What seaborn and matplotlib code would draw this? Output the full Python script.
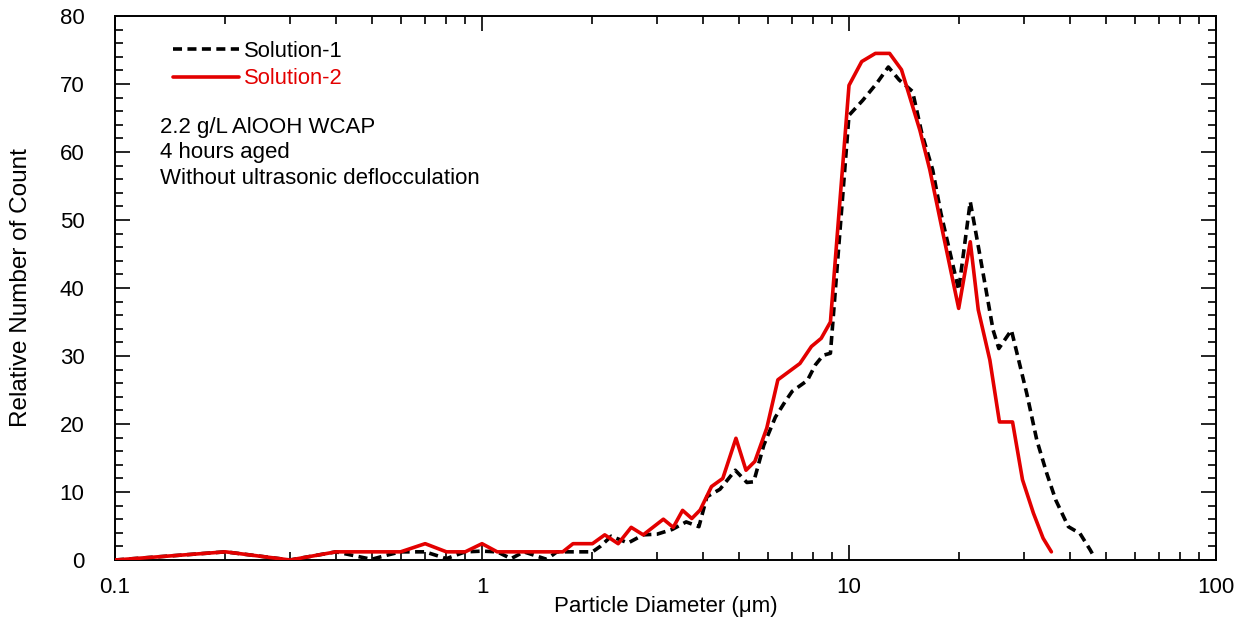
import numpy as np
import pandas as pd
import matplotlib
matplotlib.use("Agg")
import matplotlib.pyplot as plt
from matplotlib.ticker import LogLocator, MultipleLocator, FixedLocator, FixedFormatter, NullFormatter
import seaborn as sns

# ---- data ----
sol1_d = [0.1, 0.2, 0.3, 0.4, 0.5, 0.55, 0.6, 0.7, 0.8, 0.9, 1.0, 1.1, 1.2, 1.3, 1.5, 1.6, 1.8, 2.0,
          2.1, 2.25, 2.5, 2.75, 3.0, 3.3, 3.6, 3.9, 4.1, 4.45, 4.9, 5.27, 5.5, 5.86, 6.3, 6.7, 7.0, 7.7,
          8.1, 8.5, 8.9, 10.0, 10.9, 11.9, 12.8, 13.7, 14.9, 15.8, 16.9, 17.8, 19.9, 21.4, 22.6, 24.7,
          25.6, 27.7, 30.5, 32.5, 34.6, 36.6, 39.6, 42.6, 45.4, 46.5]
sol1_n = [0.0, 1.2, 0.0, 1.2, 0.1, 0.7, 1.2, 1.2, 0.2, 1.2, 1.3, 1.2, 0.2, 1.2, 0.1, 1.2, 1.2, 1.2,
          2.0, 3.5, 2.5, 3.7, 3.8, 4.5, 5.6, 4.9, 9.3, 10.4, 13.2, 11.4, 11.5, 16.9, 21.0, 23.3, 24.8, 26.4,
          28.7, 30.1, 30.4, 65.4, 67.6, 70.1, 72.5, 70.6, 68.9, 62.7, 57.4, 51.0, 39.7, 52.7, 45.6, 33.8,
          31.1, 33.8, 24.5, 17.6, 12.7, 8.8, 4.9, 3.9, 1.5, 0.5]

sol2_d = [0.1, 0.2, 0.3, 0.4, 0.5, 0.6, 0.7, 0.8, 0.9, 1.0, 1.1, 1.3, 1.5, 1.66, 1.77, 2.0, 2.16, 2.35,
          2.55, 2.75, 3.12, 3.32, 3.52, 3.73, 3.93, 4.22, 4.53, 4.92, 5.24, 5.54, 5.97, 6.4, 7.35, 7.9,
          8.4, 8.9, 10.0, 10.83, 11.8, 12.9, 13.9, 15.6, 16.6, 17.8, 19.9, 21.4, 22.5, 24.2, 25.7, 27.9,
          29.7, 31.8, 33.8, 35.6]
sol2_n = [0.0, 1.2, 0.0, 1.2, 1.2, 1.2, 2.4, 1.2, 1.2, 2.4, 1.2, 1.2, 1.2, 1.2, 2.4, 2.4, 3.7, 2.4,
          4.8, 3.7, 6.0, 4.8, 7.3, 6.1, 7.35, 10.8, 12.0, 17.9, 13.2, 14.5, 19.4, 26.5, 28.9, 31.4,
          32.6, 35.0, 69.8, 73.3, 74.5, 74.5, 72.1, 63.2, 57.4, 49.5, 37.0, 46.8, 36.8, 29.4, 20.3, 20.3,
          11.8, 6.9, 3.2, 1.2]

series_names = ["Solution-1", "Solution-2"]
x_ticks = [0.1, 1, 10, 100]
x_ticklabels = ["0.1", "1", "10", "100"]
annotation_lines = ["2.2 g/L AlOOH WCAP", "4 hours aged", "Without ultrasonic deflocculation"]

df = pd.concat([
    pd.DataFrame({"d": sol1_d, "n": sol1_n, "s": series_names[0]}),
    pd.DataFrame({"d": sol2_d, "n": sol2_n, "s": series_names[1]}),
], ignore_index=True)

sns.set_style("ticks")
plt.rcParams["font.family"] = ["Liberation Sans", "DejaVu Sans"]
plt.rcParams["text.color"] = "black"
plt.rcParams["axes.labelcolor"] = "black"

fig = plt.figure(figsize=(12.47, 6.26), dpi=100)
ax = fig.add_axes([115 / 1247, 1 - 560 / 626, (1216 - 115) / 1247, (560 - 16) / 626])

red = "#e30000"
sns.lineplot(data=df, x="d", y="n", hue="s", style="s",
             palette={series_names[0]: "black", series_names[1]: red},
             dashes={series_names[0]: (2.5, 1.5), series_names[1]: ""},
             linewidth=2.6, ax=ax, sort=False, estimator=None)

for ln in ax.get_lines():
    if ln.get_color() == red:
        ln.set_zorder(3)

ax.set_xscale("log")
ax.set_xlim(0.1, 100)
ax.set_ylim(0, 80)
ax.xaxis.set_major_locator(FixedLocator(x_ticks))
ax.xaxis.set_major_formatter(FixedFormatter(x_ticklabels))
ax.xaxis.set_minor_locator(LogLocator(base=10, subs=np.arange(2, 10)))
ax.xaxis.set_minor_formatter(NullFormatter())
ax.yaxis.set_major_locator(MultipleLocator(10))
ax.yaxis.set_minor_locator(MultipleLocator(2))

ax.tick_params(which="both", direction="in", top=True, right=True, width=1.2, colors="black",
               labelsize=16)
ax.tick_params(axis="x", which="major", pad=12)
ax.tick_params(axis="y", which="major", pad=22)
ax.tick_params(which="major", length=11)
ax.tick_params(which="minor", length=6)
for sp in ax.spines.values():
    sp.set_visible(True)
    sp.set_linewidth(1.4)
    sp.set_color("black")

ax.set_xlabel("Particle Diameter (\u03bcm)", fontsize=16)
ax.set_ylabel("Relative Number of Count", fontsize=17.5)
ax.xaxis.set_label_coords(0.5, -0.066)
ax.yaxis.set_label_coords(-0.0755, 0.5)

leg = ax.legend(loc="upper left", bbox_to_anchor=(0.0405, 0.978), frameon=False, fontsize=15.8,
                handlelength=3.0, handletextpad=0.25, labelspacing=0.28, borderaxespad=0.2,
                labelcolor="linecolor")

ax.text(160 / 1247, 1 - 117 / 626, "\n".join(annotation_lines), transform=fig.transFigure,
        fontsize=16, va="top", ha="left", linespacing=1.28, color="black")

fig.savefig("out.png", dpi=100)
